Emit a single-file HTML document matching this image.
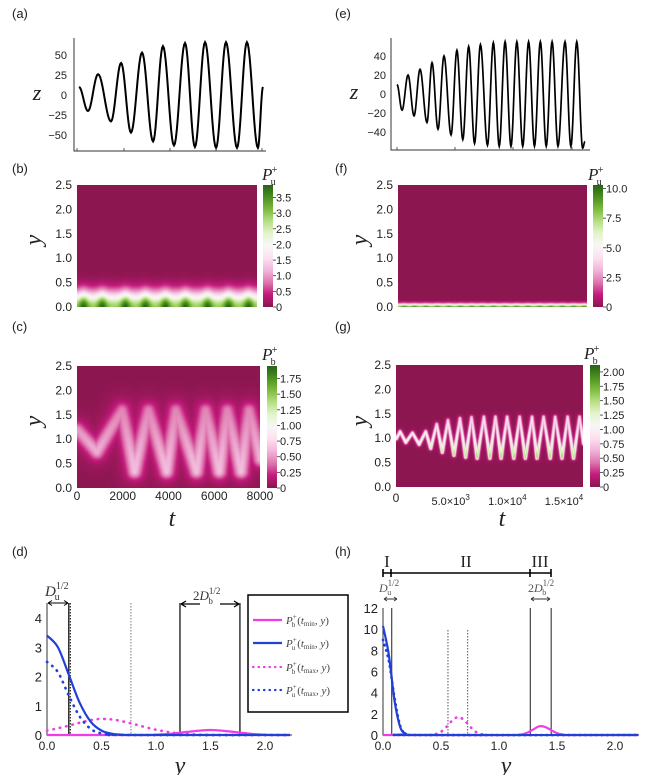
<!DOCTYPE html>
<html><head><meta charset="utf-8">
<style>
html,body{margin:0;padding:0;background:#fff;width:659px;height:775px;overflow:hidden;}
#figsvg{position:absolute;left:0;top:0;}
canvas{position:absolute;}
</style></head>
<body>
<canvas id="hb" style="left:77px;top:185px" width="180" height="122"></canvas>
<canvas id="hc" style="left:77px;top:366px" width="183" height="122"></canvas>
<canvas id="hf" style="left:398px;top:185px" width="189" height="122"></canvas>
<canvas id="hg" style="left:396px;top:365px" width="187" height="122"></canvas>
<canvas id="cbb" style="left:263px;top:185px" width="10" height="122"></canvas>
<canvas id="cbc" style="left:267px;top:366px" width="10" height="122"></canvas>
<canvas id="cbf" style="left:593px;top:185px" width="10" height="122"></canvas>
<canvas id="cbg" style="left:590px;top:365px" width="10" height="122"></canvas>
<svg id="figsvg" width="659" height="775" xmlns="http://www.w3.org/2000/svg"></svg>
<script>
// ---------- DATA ----------
var aT=[0,0.39,0.83,1.39,1.83,2.26,2.74,3.22,3.65,4.13,4.61,5.04,5.48,5.96,6.39,6.87,7.30,7.78,8.0];
var aZ=[10,-20,26,-33,40,-47,53,-58,61,-63,65,-65,66,-66,66,-66,66,-66,10];
var aTicks=[50,25,0,-25,-50];
var eT=[0,0.43,0.94,1.45,1.96,2.55,2.98,3.49,4.0,4.6,5.1,5.6,6.1,6.6,7.1,7.7,8.2,8.7,9.2,9.7,10.2,10.7,11.2,11.7,12.2,12.7,13.2,13.7,14.3,14.8,15.3,15.8,16.0];
var eZ=[10,-17,20,-23,26,-30,33,-37,40,-43,46,-48,50,-52,52,-54,54,-55,55,-55,55,-55,55,-55,55,-55,55,-55,55,-55,55,-57,-50];
var eTicks=[40,20,0,-20,-40];
var bBlobT=[0.27,1.1,2.13,3.02,3.91,4.8,5.78,6.71,7.6];
var fBlobT=[0.5,1.4,2.4,3.4,4.4,5.4,6.4,7.3,8.3,9.3,10.3,11.3,12.3,13.3,14.3,15.3,16.2];
var cT=[0,0.85,1.95,2.5,3.1,3.9,4.3,5.2,5.6,6.2,6.55,7.15,7.5,8.0];
var cY=[1.2,0.75,1.6,0.35,1.6,0.35,1.6,0.35,1.6,0.35,1.6,0.35,1.6,0.6];
var gT=[0,0.32,0.82,1.41,2.0,2.58,3.02,3.55,4.04,4.54,5.07,5.6,6.1,6.62,7.12,7.71,8.24,8.73,9.23,9.76,10.35,10.87,11.37,11.96,12.4,12.98,13.57,14.0,14.6,15.1,15.62,16.15,16.5];
var gY=[1.0,1.15,0.92,1.12,0.88,1.15,0.8,1.3,0.72,1.38,0.66,1.42,0.62,1.44,0.6,1.45,0.6,1.45,0.6,1.45,0.6,1.45,0.6,1.45,0.6,1.45,0.6,1.45,0.6,1.45,0.6,1.45,0.9];
var cbbTicks=[0,0.5,1.0,1.5,2.0,2.5,3.0,3.5];
var cbcTicks=[0,0.25,0.5,0.75,1.0,1.25,1.5,1.75];
var cbfTicks=[0,2.5,5.0,7.5,10.0];
var cbgTicks=[0,0.25,0.5,0.75,1.0,1.25,1.5,1.75,2.0];
var yHeatTicks=[0,0.5,1.0,1.5,2.0,2.5];
var dBsX=[0,0.1,0.2,0.3,0.4,0.5,0.6,0.7,0.8,2.23];
var dBsV=[3.4,3.0,2.06,1.1,0.46,0.15,0.04,0.01,0,0];
var dBdX=[0,0.1,0.2,0.3,0.4,0.5,0.6,0.7,2.23];
var dBdV=[2.5,2.15,1.35,0.63,0.21,0.05,0.01,0,0];
var dPdX=[0,0.1,0.2,0.3,0.4,0.5,0.6,0.7,0.8,0.9,1.0,1.1,1.2,1.3,1.4,1.5,2.23];
var dPdV=[0.15,0.23,0.32,0.42,0.51,0.55,0.53,0.46,0.37,0.27,0.18,0.11,0.06,0.03,0.01,0,0];
var dPsX=[0,0.9,1.0,1.1,1.2,1.3,1.4,1.5,1.6,1.7,1.8,1.9,2.0,2.1,2.23];
var dPsV=[0,0,0.01,0.03,0.07,0.11,0.15,0.17,0.15,0.11,0.07,0.03,0.01,0,0];
var dXTicks=[0,0.5,1.0,1.5,2.0];
var dYTicks=[0,1,2,3,4];
var hBsX=[0,0.05,0.1,0.15,0.2,0.25,2.2];
var hBsV=[10.3,7.6,3.2,0.7,0.1,0,0];
var hBdX=[0,0.05,0.1,0.15,0.2,0.25,2.2];
var hBdV=[9,7,3.5,0.8,0.1,0,0];
var hPdX=[0.4,0.45,0.5,0.55,0.6,0.65,0.7,0.75,0.8,0.85,0.9];
var hPdV=[0,0.08,0.3,0.8,1.4,1.7,1.4,0.8,0.3,0.08,0];
var hPsX=[0,1.1,1.15,1.2,1.25,1.3,1.35,1.4,1.45,1.5,1.55,1.6,2.2];
var hPsV=[0,0,0.01,0.06,0.25,0.55,0.83,0.75,0.45,0.18,0.05,0,0];
var hXTicks=[0,0.5,1.0,1.5,2.0];
var hYTicks=[0,2,4,6,8,10,12];

// ---------- helpers ----------
var SVGNS="http://www.w3.org/2000/svg";
var rootSvg=document.getElementById('figsvg');
function mkEl(tag,attrs,parent){var e=document.createElementNS(SVGNS,tag);for(var k in attrs){e.setAttribute(k,attrs[k]);}(parent||rootSvg).appendChild(e);return e;}
function mkTxt(x,y,s,size,anchor,fam,style){var e=mkEl('text',{x:x,y:y,'font-size':size,'text-anchor':anchor||'middle','font-family':fam||'"Liberation Sans",sans-serif','font-style':style||'normal',fill:'#222'});e.textContent=s;return e;}
function fmtN(v,d){return v.toFixed(d);}
var PIYG=[[140,22,80],[197,27,125],[222,119,174],[241,182,218],[253,224,239],[247,247,247],[230,245,208],[184,225,134],[127,188,65],[77,146,33],[39,100,25]];
function cmapF(f){f=Math.max(0,Math.min(1,f))*10;var i=Math.min(9,Math.floor(f)),r=f-i;var a=PIYG[i],b=PIYG[i+1];return [a[0]+(b[0]-a[0])*r,a[1]+(b[1]-a[1])*r,a[2]+(b[2]-a[2])*r];}
function drawHeat(id,fn,vmax){var c=document.getElementById(id);var g=c.getContext('2d');var W=c.width,H=c.height;var im=g.createImageData(W,H);
 for(var j=0;j<H;j++){for(var i=0;i<W;i++){var col=cmapF(fn(i,j,W,H)/vmax);var k=(j*W+i)*4;im.data[k]=col[0];im.data[k+1]=col[1];im.data[k+2]=col[2];im.data[k+3]=255;}}g.putImageData(im,0,0);}
function cbTicks(x,top,bot,vmax,ticks,dec,name){ticks.forEach(function(v){var y=bot-(v/vmax)*(bot-top);mkEl('line',{x1:x,x2:x+3,y1:y,y2:y,stroke:'#333','stroke-width':0.8});var t=mkTxt(x+3,y+4,v===0?'0':fmtN(v,dec),11,'start');
 
 });}
function pLabel(x,y,sub,name){var t=mkEl('text',{x:x,y:y,'font-family':'"Liberation Serif",serif','font-size':17,fill:'#222'});
 
 
 mkEl('tspan',{'font-style':'italic'},t).textContent='P';mkEl('tspan',{dx:-1,dy:-7,'font-size':11},t).textContent='+';mkEl('tspan',{dx:-7,dy:12,'font-size':10},t).textContent=sub;}
function heatYTicks(xr,top,bot,name){yHeatTicks.forEach(function(v){var y=bot-(v/2.5)*(bot-top);var t=mkTxt(xr,y+4,fmtN(v,1),12,'end');
 
 });}
function zCurve(T,Z,tx,zy){var d='';for(var k=0;k<T.length-1;k++){for(var s=0;s<=12;s++){var f=s/12,tt=T[k]+(T[k+1]-T[k])*f,zz=Z[k]+(Z[k+1]-Z[k])*(1-Math.cos(Math.PI*f))/2;d+=(d?'L':'M')+tx(tt).toFixed(2)+','+zy(zz).toFixed(2);}}return d;}
function smoothPath(X,V,sx,sy){var P=X.map(function(x,i){return [sx(x),sy(V[i])];});var d='M'+P[0][0].toFixed(2)+','+P[0][1].toFixed(2);
 for(var i=0;i<P.length-1;i++){var p0=P[Math.max(0,i-1)],p1=P[i],p2=P[i+1],p3=P[Math.min(P.length-1,i+2)];
 var c1x=p1[0]+(p2[0]-p0[0])/6,c1y=p1[1]+(p2[1]-p0[1])/6,c2x=p2[0]-(p3[0]-p1[0])/6,c2y=p2[1]-(p3[1]-p1[1])/6;
 d+=' C'+c1x.toFixed(2)+','+c1y.toFixed(2)+' '+c2x.toFixed(2)+','+c2y.toFixed(2)+' '+p2[0].toFixed(2)+','+p2[1].toFixed(2);}return d;}
function segDist(px,py,P){var m=1e9,bi=0;for(var k=0;k<P.length-1;k++){var ax=P[k][0],ay=P[k][1],bx=P[k+1][0],by=P[k+1][1],dx=bx-ax,dy=by-ay;var u=((px-ax)*dx+(py-ay)*dy)/(dx*dx+dy*dy);u=Math.max(0,Math.min(1,u));var qx=ax+u*dx,qy=ay+u*dy,dd=(px-qx)*(px-qx)+(py-qy)*(py-qy);if(dd<m){m=dd;bi=qy;}}return [m,bi];}
function nameIt(e,n){
 return e;}
function drawProfile(X,V,sx,sy,col,dash,name){var p=mkEl('path',{d:smoothPath(X,V,sx,sy),fill:'none',stroke:col,'stroke-width':dash?2.6:2.2,'stroke-dasharray':dash||'none','stroke-linecap':dash?'round':'butt'});
 
 }

// ---------- panel labels ----------
try{
[['(a)',12,18],['(b)',12,173],['(c)',12,331],['(d)',12,556],['(e)',335,18],['(f)',335,173],['(g)',335,331],['(h)',335,556]].forEach(function(p){var t=mkTxt(p[1],p[2],p[0],13,'start');
 
 });
}catch(e){console.log(e);}

// ---------- (a) ----------
try{(function(){var tx=function(t){return 79+t*23;},zy=function(z){return 95-z*0.8;};
 nameIt(mkEl('path',{d:'M74,38 L74,151 L266,151',fill:'none',stroke:'#333','stroke-width':1}),'axes-a');
 [77,124,170,216,262].forEach(function(x){mkEl('line',{x1:x,x2:x,y1:151,y2:148,stroke:'#333','stroke-width':0.8});});
 aTicks.forEach(function(v){nameIt(mkTxt(67,zy(v)+4,v<0?'\u2212'+(-v):''+v,11,'end'),'a-y-tick');});
 nameIt(mkTxt(37,100,'z',22,'middle','"Liberation Serif",serif','italic'),'z-axis-title-a');
 nameIt(mkEl('path',{d:zCurve(aT,aZ,tx,zy),fill:'none',stroke:'#000','stroke-width':2}),'z-trace-a');
})();}catch(e){console.log(e);}
// ---------- (e) ----------
try{(function(){var tx=function(t){return 397+t*11.75;},zy=function(z){return 94-z*0.95;};
 nameIt(mkEl('path',{d:'M391,38 L391,150 L590,150',fill:'none',stroke:'#333','stroke-width':1}),'axes-e');
 [397,455,513,572].forEach(function(x){mkEl('line',{x1:x,x2:x,y1:150,y2:147,stroke:'#333','stroke-width':0.8});});
 eTicks.forEach(function(v){nameIt(mkTxt(386,zy(v)+4,v<0?'\u2212'+(-v):''+v,11,'end'),'e-y-tick');});
 nameIt(mkTxt(354,99,'z',22,'middle','"Liberation Serif",serif','italic'),'z-axis-title-e');
 nameIt(mkEl('path',{d:zCurve(eT,eZ,tx,zy),fill:'none',stroke:'#000','stroke-width':1.7}),'z-trace-e');
})();}catch(e){console.log(e);}

// ---------- heatmaps ----------
try{drawHeat('hb',function(i,j,W,H){var t=i/W*8,y=2.5*(1-j/H);var A=2.9;bBlobT.forEach(function(b){A+=1.0*Math.exp(-Math.pow((t-b)/0.22,2));});return A*Math.exp(-y*y/(2*0.225*0.225));},3.9);}catch(e){console.log(e);}
try{drawHeat('hf',function(i,j,W,H){var t=i/W*16.5,y=2.5*(1-j/H);var A=8.6;fBlobT.forEach(function(b){A+=1.4*Math.exp(-Math.pow((t-b)/0.25,2));});return A*Math.exp(-y*y/(2*0.052*0.052));},10.3);}catch(e){console.log(e);}
try{(function(){var c=document.getElementById('hc'),W=c.width,H=c.height;var P=cT.map(function(t,k){return [t/8*W,H*(1-cY[k]/2.5)];});
 drawHeat('hc',function(i,j){var r=segDist(i,j,P);var d2=r[0];var low=r[1]/H;return (0.18+0.38*low)*Math.exp(-d2/50)+0.12*Math.exp(-d2/300);},1.95);})();}catch(e){console.log(e);}
try{(function(){var c=document.getElementById('hg'),W=c.width,H=c.height;var P=gT.map(function(t,k){return [t/16.5*W,H*(1-gY[k]/2.5)];});
 drawHeat('hg',function(i,j){var r=segDist(i,j,P);var yv=2.5*(1-r[1]/H);var v=0.75+0.7*Math.max(0,(1.3-yv))/0.7;return v*Math.exp(-r[0]/2.4)+0.12*Math.exp(-r[0]/14);},2.12);})();}catch(e){console.log(e);}
try{['cbb','cbc','cbf','cbg'].forEach(function(id){drawHeat(id,function(i,j,W,H){return 1-j/(H-1);},1);});}catch(e){console.log(e);}
try{
cbTicks(273,185,307,3.9,cbbTicks,1,'cb-b');
cbTicks(277,366,488,1.95,cbcTicks,2,'cb-c');
cbTicks(603,185,307,10.3,cbfTicks,1,'cb-f');
cbTicks(600,365,487,2.12,cbgTicks,2,'cb-g');
pLabel(262,180,'u','colorbar-b-title');pLabel(262,360,'b','colorbar-c-title');
pLabel(588,180,'u','colorbar-f-title');pLabel(584,359,'b','colorbar-g-title');
heatYTicks(72,185,307,'b');heatYTicks(72,366,488,'c');heatYTicks(393,185,307,'f');heatYTicks(391,365,487,'g');
[[34,247],[34,428],[360,247],[360,428]].forEach(function(p){var t=mkTxt(p[0],p[1],'y',24,'middle','"Liberation Serif",serif','italic');t.setAttribute('transform','rotate(-90 '+p[0]+' '+(p[1]-7)+')');
 
 });
[0,2000,4000,6000,8000].forEach(function(v){nameIt(mkTxt(77+v/8000*183,500,''+v,12,'middle'),'c-x-tick');});
nameIt(mkTxt(396,502,'0',12,'middle'),'g-x-tick');
[[5,'5.0','3'],[10,'1.0','4'],[15,'1.5','4']].forEach(function(p){var x=396+p[0]/16.5*187;var t=mkEl('text',{x:x-2,y:505,'font-size':11,'text-anchor':'middle','font-family':'"Liberation Sans",sans-serif',fill:'#222'});
 
 
 t.textContent=p[1]+'\u00d710';mkEl('tspan',{dy:-5,'font-size':8},t).textContent=p[2];});
nameIt(mkTxt(172,526,'t',24,'middle','"Liberation Serif",serif','italic'),'t-axis-title-c');
nameIt(mkTxt(502,526,'t',24,'middle','"Liberation Serif",serif','italic'),'t-axis-title-g');
}catch(e){console.log(e);}

// ---------- (d) ----------
try{(function(){var sx=function(v){return 47+v*109;},sy=function(v){return 735-v*29.25;};
 nameIt(mkEl('path',{d:'M47,603 L47,735 L292,735',fill:'none',stroke:'#333','stroke-width':1}),'axes-d');
 dYTicks.forEach(function(v){nameIt(mkTxt(42,sy(v)+5,''+v,13,'end'),'d-y-tick');});
 dXTicks.forEach(function(v){nameIt(mkTxt(sx(v),750,fmtN(v,1),12,'middle'),'d-x-tick');});
 nameIt(mkTxt(180,773,'y',24,'middle','"Liberation Serif",serif','italic'),'x-axis-title-d');
 [0.2,1.22,1.77].forEach(function(v){mkEl('line',{x1:sx(v),x2:sx(v),y1:603,y2:735,stroke:'#000','stroke-width':1.2});});
 mkEl('line',{x1:sx(0.2)+1.5,x2:sx(0.2)+1.5,y1:603,y2:735,stroke:'#000','stroke-width':1,'stroke-dasharray':'1.5 1.5'});
 mkEl('line',{x1:sx(0.77),x2:sx(0.77),y1:603,y2:735,stroke:'#777','stroke-width':1,'stroke-dasharray':'1.5 1.5'});
 mkEl('path',{d:'M48,603 L68,603 M48,603 l4,-2.5 M48,603 l4,2.5 M68,603 l-4,-2.5 M68,603 l-4,2.5',stroke:'#000','stroke-width':1,fill:'none'});
 mkEl('path',{d:'M181,604 L200,604 M220,604 L239,604 M181,604 l5,-3 M181,604 l5,3 M239,604 l-5,-3 M239,604 l-5,3',stroke:'#000','stroke-width':1.3,fill:'none'});
 var l1=nameIt(mkEl('text',{x:45,y:596,'font-family':'"Liberation Serif",serif','font-size':15,fill:'#333'}),'d-du-label');
 mkEl('tspan',{'font-style':'italic'},l1).textContent='D';mkEl('tspan',{dy:-7,'font-size':10},l1).textContent='1/2';mkEl('tspan',{dx:-14,dy:11,'font-size':10},l1).textContent='u';
 var l2=nameIt(mkEl('text',{x:193,y:600,'font-family':'"Liberation Serif",serif','font-size':13,fill:'#333'}),'d-db-label');
 mkEl('tspan',{},l2).textContent='2';mkEl('tspan',{'font-style':'italic'},l2).textContent='D';mkEl('tspan',{dy:-6,'font-size':9},l2).textContent='1/2';mkEl('tspan',{dx:-12,dy:10,'font-size':9},l2).textContent='b';
 drawProfile(dPsX,dPsV,sx,sy,'#f03ce8','','d-pb-tmin');
 drawProfile(dPdX,dPdV,sx,sy,'#f03ce8','0.5 6','d-pb-tmax');
 drawProfile(dBdX,dBdV,sx,sy,'#2040d8','0.5 6','d-pu-tmax');
 drawProfile(dBsX,dBsV,sx,sy,'#2040d8','','d-pu-tmin');
})();}catch(e){console.log(e);}

// ---------- legend ----------
try{(function(){var g=nameIt(mkEl('g',{}),'legend');
 mkEl('rect',{x:248,y:595,width:100,height:117,fill:'#fff',stroke:'#000','stroke-width':1.5},g);
 var rows=[[620,'#f03ce8','','b','min'],[643,'#2040d8','','u','min'],[667,'#f03ce8','0.5 5','b','max'],[690,'#2040d8','0.5 5','u','max']];
 rows.forEach(function(r){var e=nameIt(mkEl('g',{},g),'legend-entry');
  mkEl('line',{x1:253,x2:282,y1:r[0],y2:r[0],stroke:r[1],'stroke-width':2.2,'stroke-dasharray':r[2]||'none','stroke-linecap':r[2]?'round':'butt'},e);
  var t=mkEl('text',{x:286,y:r[0]+4,'font-family':'"Liberation Serif",serif','font-size':11,fill:'#444'},e);
  mkEl('tspan',{'font-style':'italic'},t).textContent='P';mkEl('tspan',{dy:-5,'font-size':7},t).textContent='+';mkEl('tspan',{dx:-5,dy:8,'font-size':7},t).textContent=r[3];
  mkEl('tspan',{dy:-3,dx:2},t).textContent='(';mkEl('tspan',{'font-style':'italic'},t).textContent='t';mkEl('tspan',{dy:2,'font-size':7},t).textContent=r[4];mkEl('tspan',{dy:-2},t).textContent=', ';mkEl('tspan',{'font-style':'italic'},t).textContent='y';mkEl('tspan',{},t).textContent=')';});
})();}catch(e){console.log(e);}

// ---------- (h) ----------
try{(function(){var sx=function(v){return 383+v*116;},sy=function(v){return 735-v*10.58;};
 nameIt(mkEl('path',{d:'M383,608 L383,735 L639,735',fill:'none',stroke:'#333','stroke-width':1}),'axes-h');
 hYTicks.forEach(function(v){nameIt(mkTxt(378,sy(v)+5,''+v,13,'end'),'h-y-tick');});
 hXTicks.forEach(function(v){nameIt(mkTxt(sx(v),750,fmtN(v,1),12,'middle'),'h-x-tick');});
 nameIt(mkTxt(506,773,'y',24,'middle','"Liberation Serif",serif','italic'),'x-axis-title-h');
 [0.075,1.27,1.45].forEach(function(v){mkEl('line',{x1:sx(v),x2:sx(v),y1:608,y2:735,stroke:'#444','stroke-width':1.2});});
 [0.56,0.73].forEach(function(v){mkEl('line',{x1:sx(v),x2:sx(v),y1:630,y2:735,stroke:'#555','stroke-width':1,'stroke-dasharray':'1.5 1.5'});});
 nameIt(mkEl('path',{d:'M383,573 L551,573 M383,569 L383,577 M391,569 L391,577 M530,569 L530,577 M551,569 L551,577',stroke:'#000','stroke-width':1.6,fill:'none'}),'region-bracket');
 [['I',387],['II',466],['III',540]].forEach(function(p){nameIt(mkTxt(p[1],567,p[0],17,'middle','"Liberation Serif",serif'),'region-label-'+p[0]);});
 mkEl('path',{d:'M384,599 L397,599 M384,599 l3,-2 M384,599 l3,2 M397,599 l-3,-2 M397,599 l-3,2',stroke:'#333','stroke-width':0.9,fill:'none'});
 mkEl('path',{d:'M531,599 L550,599 M531,599 l3,-2 M531,599 l3,2 M550,599 l-3,-2 M550,599 l-3,2',stroke:'#333','stroke-width':0.9,fill:'none'});
 var l1=nameIt(mkEl('text',{x:379,y:592,'font-family':'"Liberation Serif",serif','font-size':12,fill:'#555'}),'h-du-label');
 mkEl('tspan',{'font-style':'italic'},l1).textContent='D';mkEl('tspan',{dy:-6,'font-size':9},l1).textContent='1/2';mkEl('tspan',{dx:-12,dy:9,'font-size':8},l1).textContent='u';
 var l2=nameIt(mkEl('text',{x:528,y:592,'font-family':'"Liberation Serif",serif','font-size':12,fill:'#555'}),'h-db-label');
 mkEl('tspan',{},l2).textContent='2';mkEl('tspan',{'font-style':'italic'},l2).textContent='D';mkEl('tspan',{dy:-6,'font-size':9},l2).textContent='1/2';mkEl('tspan',{dx:-12,dy:9,'font-size':8},l2).textContent='b';
 drawProfile(hPsX,hPsV,sx,sy,'#f03ce8','','h-pb-tmin');
 drawProfile(hPdX,hPdV,sx,sy,'#f03ce8','0.5 6','h-pb-tmax');
 drawProfile(hBdX,hBdV,sx,sy,'#2040d8','0.5 5','h-pu-tmax');
 drawProfile(hBsX,hBsV,sx,sy,'#2040d8','','h-pu-tmin');
})();}catch(e){console.log(e);}
</script>
</body></html>
